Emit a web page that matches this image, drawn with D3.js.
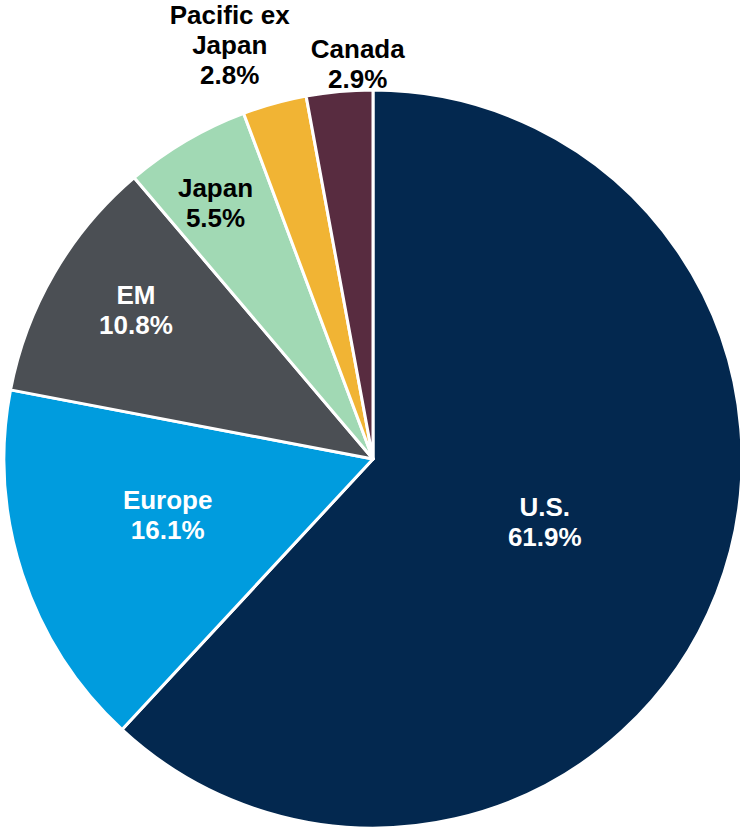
<!DOCTYPE html>
<html>
<head>
<meta charset="utf-8">
<script src="https://cdn.jsdelivr.net/npm/d3@7"></script>
<style>
  body { margin: 0; background: #fff; }
  text { font-family: "Liberation Sans", Arial, sans-serif; font-weight: bold; }
</style>
</head>
<body>
<div id="chart"></div>
<script>
// regions, clockwise from 12 o'clock
const regions = ['U.S.', 'Europe', 'EM', 'Japan', 'Pacific ex Japan', 'Canada'];
const weights = [61.9, 16.1, 10.8, 5.5, 2.8, 2.9];
const labelLines = [['U.S.'], ['Europe'], ['EM'], ['Japan'], ['Pacific ex', 'Japan'], ['Canada']];
const colors = ['#03284f', '#009cde', '#4b4f54', '#a1d9b4', '#f1b434', '#582c40'];
const textColors = ['#fff', '#fff', '#fff', '#000', '#000', '#000'];

(function(){
    const width = 740;
    const height = 828;
    const radius = 369;
    const cx = 373;
    const cy = 459;

    // label placement: fraction of radius along the slice middle, plus nudge
    const labelPos = [
        { k: 0.50, dx: 0, dy: 0 },
        { k: 0.58, dx: -2, dy: -7 },
        { k: 0.75, dx: 2, dy: -6 },
        { k: 0.80, dx: -8, dy: 3 },
        { k: 1.15, dx: -30, dy: -1 },
        { k: 1.05, dx: 20, dy: -5 }
    ];

    const data = regions.map((r, i) => ({
        region: r,
        value: weights[i],
        lines: labelLines[i].concat([weights[i].toFixed(1) + '%']),
        color: colors[i],
        text: textColors[i],
        pos: labelPos[i]
    }));

    const svg = d3.select('#chart')
        .append('svg')
            .attr('width', width)
            .attr('height', height)
        .append('g')
            .attr('transform', `translate(${cx}, ${cy})`);

    const pie = d3.pie()
        .sort(null)
        .value(d => d.value);

    const arc = d3.arc()
        .innerRadius(0)
        .outerRadius(radius);

    const arcs = pie(data);

    svg.selectAll('.slice')
        .data(arcs)
        .enter()
        .append('path')
            .attr('class', 'slice')
            .attr('d', arc)
            .style('fill', d => d.data.color)
            .style('stroke', '#fff')
            .style('stroke-width', 3)
            .style('stroke-linejoin', 'round');

    const lineH = 30;
    const fontSize = 26;

    const labels = svg.selectAll('.label')
        .data(arcs)
        .enter()
        .append('text')
            .attr('class', 'label')
            .attr('text-anchor', 'middle')
            .style('font-size', fontSize + 'px')
            .style('fill', d => d.data.text)
            .attr('transform', d => {
                const p = d.data.pos;
                const r = radius * p.k;
                const c = d3.arc().innerRadius(r).outerRadius(r).centroid(d);
                return `translate(${c[0] + p.dx}, ${c[1] + p.dy})`;
            });

    labels.selectAll('tspan')
        .data(d => d.data.lines.map((t, i, a) => ({ t: t, i: i, n: a.length })))
        .enter()
        .append('tspan')
            .attr('x', 0)
            .attr('y', l => (l.i - (l.n - 1) / 2) * lineH + 5)
            .text(l => l.t);
}())
</script>
</body>
</html>
